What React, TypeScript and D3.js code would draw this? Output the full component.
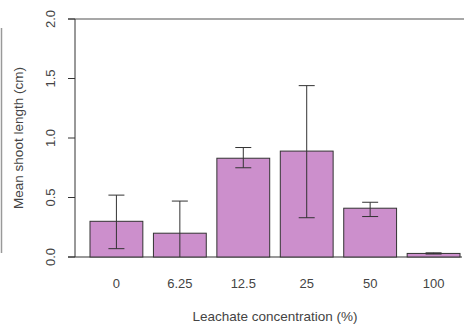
import React from "react";
import * as d3 from "d3";

const categories = ["0", "6.25", "12.5", "25", "50", "100"];
const means = [0.3, 0.2, 0.83, 0.89, 0.41, 0.03];
const errLow = [0.07, 0.0, 0.75, 0.33, 0.34, 0.025];
const errHigh = [0.52, 0.47, 0.92, 1.44, 0.46, 0.035];
const yTicks = [0, 0.5, 1, 1.5, 2];

const W = 466;
const H = 326;
const axisX = 75;
const x = d3.scaleBand<string>().domain(categories).range([90, 460]).paddingInner(0.167).paddingOuter(0);
const y = d3.scaleLinear().domain([0, 2]).range([257, 19]);

const barFill = "#cc8fcc";
const ink = "#333";
const textCol = "#444";
const font = "'Liberation Sans', Arial, sans-serif";

export default function App() {
  const bw = x.bandwidth();
  return (
    <svg width={W} height={H} style={{ position: "absolute", left: 0, top: 0, background: "#fff" }}>
      {/* frame fragments */}
      <line x1={1.5} x2={1.5} y1={28} y2={253} stroke="#999" strokeWidth={1.5} />
      <line x1={68} x2={464} y1={y(2)} y2={y(2)} stroke="#8a8a8a" strokeWidth={1.6} />
      <line x1={68} x2={462} y1={y(0)} y2={y(0)} stroke={ink} strokeWidth={1} />

      {/* bars */}
      {categories.map((c, i) => (
        <rect
          key={c}
          x={x(c)!}
          y={y(means[i])}
          width={bw}
          height={y(0) - y(means[i])}
          fill={barFill}
          stroke={ink}
          strokeWidth={1}
        />
      ))}

      {/* error bars */}
      {categories.map((c, i) => {
        const cx = x(c)! + bw / 2;
        const capW = 8;
        return (
          <g key={"e" + c} stroke={ink} strokeWidth={1}>
            <line x1={cx} x2={cx} y1={y(errLow[i])} y2={y(errHigh[i])} />
            <line x1={cx - capW} x2={cx + capW} y1={y(errHigh[i])} y2={y(errHigh[i])} />
            {errLow[i] > 0 && (
              <line x1={cx - capW} x2={cx + capW} y1={y(errLow[i])} y2={y(errLow[i])} />
            )}
          </g>
        );
      })}

      {/* y axis */}
      <line x1={axisX} x2={axisX} y1={y(0)} y2={y(2)} stroke={ink} strokeWidth={1} />
      {yTicks.map((t) => (
        <g key={t}>
          <line x1={axisX - 7} x2={axisX} y1={y(t)} y2={y(t)} stroke={ink} strokeWidth={1} />
          <text
            transform={`translate(${55},${y(t)}) rotate(-90)`}
            textAnchor="middle"
            fontFamily={font}
            fontSize={13}
            fill={textCol}
          >
            {t.toFixed(1)}
          </text>
        </g>
      ))}
      <text
        transform={`translate(${23},${138}) rotate(-90)`}
        textAnchor="middle"
        fontFamily={font}
        fontSize={13.5}
        fill={textCol}
      >
        Mean shoot length (cm)
      </text>

      {/* x labels */}
      {categories.map((c) => (
        <text
          key={"l" + c}
          x={x(c)! + bw / 2}
          y={288}
          textAnchor="middle"
          fontFamily={font}
          fontSize={13}
          fill={textCol}
        >
          {c}
        </text>
      ))}
      <text x={275} y={321} textAnchor="middle" fontFamily={font} fontSize={13.5} fill={textCol}>
        Leachate concentration (%)
      </text>
    </svg>
  );
}
